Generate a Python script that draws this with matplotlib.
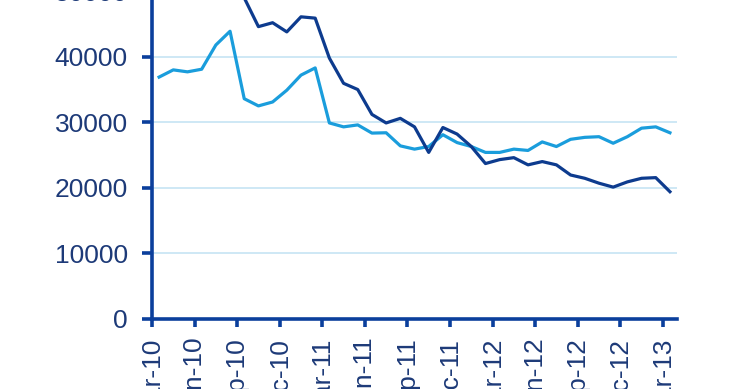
import numpy as np
import matplotlib
matplotlib.use("Agg")
import matplotlib.pyplot as plt

plt.rcParams['font.family'] = ['Liberation Sans', 'DejaVu Sans']

# monthly data, Mar-10 .. Mar-13 (37 months)
months = ['Mar-10', 'Apr-10', 'May-10', 'Jun-10', 'Jul-10', 'Aug-10', 'Sep-10',
          'Oct-10', 'Nov-10', 'Dec-10', 'Jan-11', 'Feb-11', 'Mar-11', 'Apr-11',
          'May-11', 'Jun-11', 'Jul-11', 'Aug-11', 'Sep-11', 'Oct-11', 'Nov-11',
          'Dec-11', 'Jan-12', 'Feb-12', 'Mar-12', 'Apr-12', 'May-12', 'Jun-12',
          'Jul-12', 'Aug-12', 'Sep-12', 'Oct-12', 'Nov-12', 'Dec-12', 'Jan-13',
          'Feb-13', 'Mar-13']

dark_series = [56000, 57500, 58500, 57000, 59000, 54000, 49000,
               44600, 45200, 43800, 46100, 45900, 39800, 35950,
               35000, 31200, 29900, 30600, 29300, 25400, 29200,
               28200, 26300, 23700, 24300, 24600, 23500, 24000,
               23500, 21950, 21450, 20700, 20100, 20900, 21450,
               21550, 19400]

light_series = [36900, 38000, 37700, 38100, 41800, 43900, 33600,
                32500, 33100, 34900, 37200, 38300, 29900, 29300,
                29600, 28350, 28400, 26400, 25900, 26300, 28100,
                26900, 26300, 25400, 25400, 25900, 25700, 27000,
                26300, 27400, 27700, 27800, 26800, 27800, 29100,
                29300, 28400]

tick_labels = months[::3]

dark_col = '#0d3b8e'
light_col = '#1a9ddc'
axis_col = '#0b3f9c'
text_col = '#1d3a78'

fig = plt.figure(figsize=(7.4, 3.89), dpi=100)
ax = fig.add_axes([0.2054, 0.1805, 0.7095, 1.0103])

x = np.arange(len(months))
ax.plot(x, light_series, color=light_col, lw=2.3, solid_joinstyle='round')
ax.plot(x, dark_series, color=dark_col, lw=2.3, solid_joinstyle='round')

ax.set_xlim(-0.5, len(months) - 0.5)
ax.set_ylim(0, 60000)
ax.set_yticks(np.arange(0, 60001, 10000))
ax.set_xticks(np.arange(len(months))[::3] - 0.5)
ax.set_xticklabels(tick_labels, rotation=90, va='top', ha='center')

ax.yaxis.grid(True, color='#c6e4f4', lw=1.2)
ax.set_axisbelow(True)

for s in ['top', 'right']:
    ax.spines[s].set_visible(False)
for s in ['left', 'bottom']:
    ax.spines[s].set_color(axis_col)
    ax.spines[s].set_linewidth(2.6)

ax.tick_params(axis='y', length=7, width=2.6, color=axis_col, pad=10.5,
               labelsize=19, labelcolor=text_col)
ax.tick_params(axis='x', length=6, width=2.6, color=axis_col, pad=7,
               labelsize=19, labelcolor=text_col)

fig.savefig('out.png', dpi=100, facecolor='white')
